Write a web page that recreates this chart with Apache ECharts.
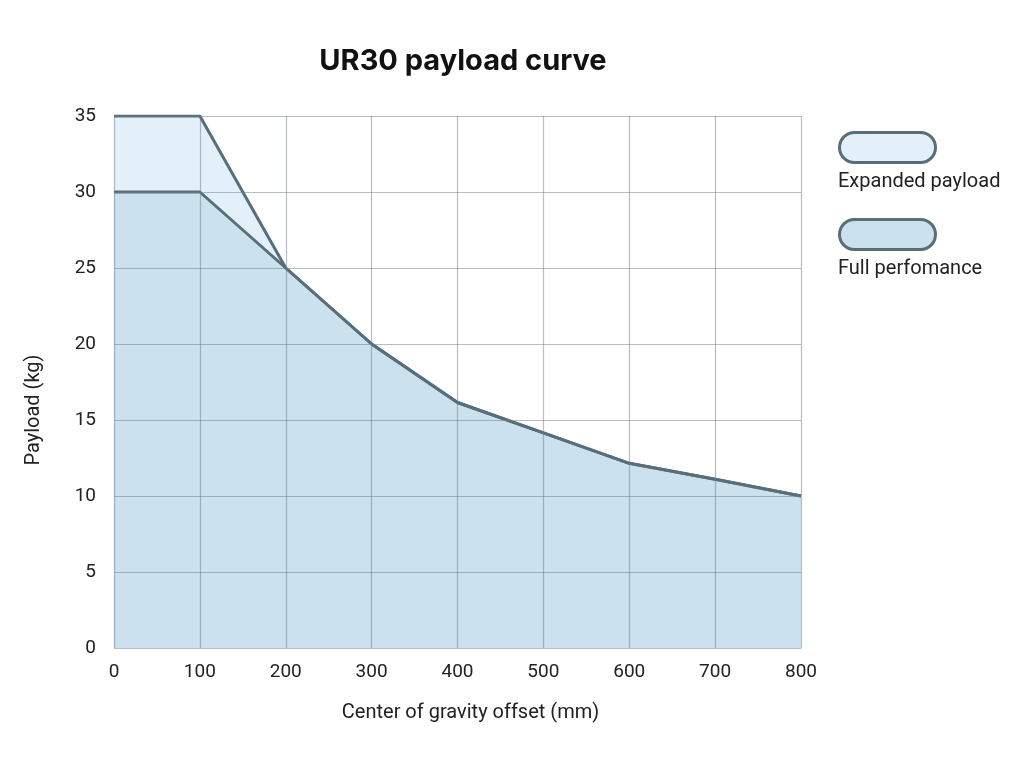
<!DOCTYPE html>
<html><head><meta charset="utf-8">
<script src="https://cdn.jsdelivr.net/npm/echarts@6/dist/echarts.min.js"></script>
<style>html,body{margin:0;padding:0;background:#fff}#c{width:1024px;height:767px}</style>
</head><body><div id="c"></div>
<script>
const xValues = [0, 100, 200, 300, 400, 500, 600, 700, 800];
const expandedPayload = [35, 35, 25, 20, 16.15, 14.15, 12.15, 11.1, 10];
const fullPerformance = [30, 30, 25, 20, 16.15, 14.15, 12.15, 11.1, 10];
const seriesNames = ['Expanded payload', 'Full perfomance'];
const lineColor = '#586e79';
const fills = ['#e3f0fa', '#cce1ee'];

const chart = echarts.init(document.getElementById('c'));
const font = 'Roboto';
chart.setOption({
  animation: false,
  title: {
    text: 'UR30 payload curve', left: 458, top: 42, textAlign: 'center',
    textStyle: {fontFamily: 'Inter', fontWeight: 'bold', fontSize: 29, color: '#111'}
  },
  grid: {left: 114, right: 223, top: 116, bottom: 119},
  xAxis: {
    type: 'value', min: 0, max: 800, interval: 100, z: 3,
    name: 'Center of gravity offset (mm)', nameLocation: 'middle', nameGap: 55,
    nameTextStyle: {fontFamily: font, fontSize: 20, color: '#222', padding: [0, 0, 0, 26]},
    axisLine: {show: false}, axisTick: {show: false},
    axisLabel: {fontFamily: font, fontSize: 19, color: '#222', margin: 15},
    splitLine: {show: true, lineStyle: {color: 'rgba(110,125,135,0.5)', width: 1.2}}
  },
  yAxis: {
    type: 'value', min: 0, max: 35, interval: 5, z: 3,
    name: 'Payload (kg)', nameLocation: 'middle', nameGap: 70,
    nameTextStyle: {fontFamily: font, fontSize: 20, color: '#222', padding: [0, 56, 0, 0]},
    axisLine: {show: false}, axisTick: {show: false},
    axisLabel: {fontFamily: font, fontSize: 19, color: '#222', margin: 18},
    splitLine: {show: true, lineStyle: {color: 'rgba(110,125,135,0.5)', width: 1.2}}
  },
  series: [
    {
      name: seriesNames[0], type: 'line', symbol: 'none', z: 2,
      data: xValues.map((x, i) => [x, expandedPayload[i]]),
      lineStyle: {color: lineColor, width: 3},
      areaStyle: {color: fills[0], opacity: 1}
    },
    {
      name: seriesNames[1], type: 'line', symbol: 'none', z: 2,
      data: xValues.map((x, i) => [x, fullPerformance[i]]),
      lineStyle: {color: lineColor, width: 3},
      areaStyle: {color: fills[1], opacity: 1}
    }
  ],
  graphic: [
    {type: 'rect', left: 838, top: 131, shape: {width: 96, height: 30, r: 15},
     style: {fill: fills[0], stroke: lineColor, lineWidth: 3}},
    {type: 'text', left: 838, top: 172, style: {text: seriesNames[0], fontFamily: font, fontSize: 20, fill: '#222'}},
    {type: 'rect', left: 838, top: 218, shape: {width: 96, height: 30, r: 15},
     style: {fill: fills[1], stroke: lineColor, lineWidth: 3}},
    {type: 'text', left: 838, top: 259, style: {text: seriesNames[1], fontFamily: font, fontSize: 20, fill: '#222'}}
  ]
});
</script></body></html>
